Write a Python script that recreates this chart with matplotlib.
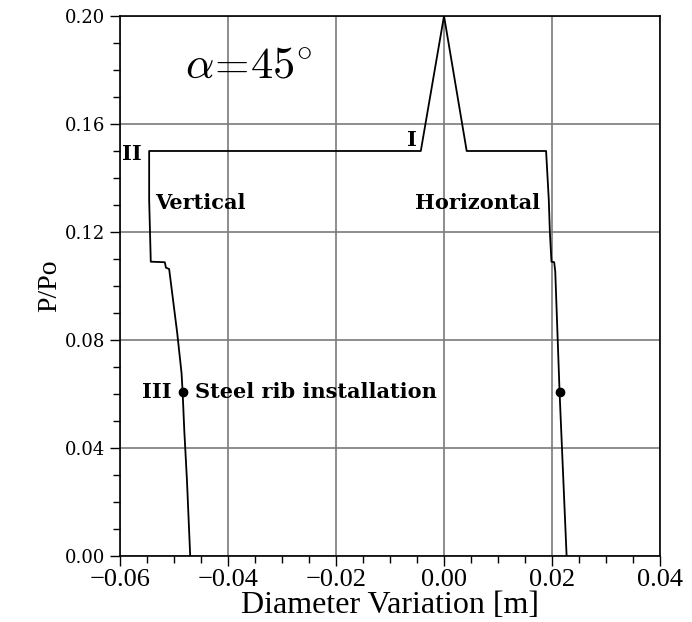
"""Load ratio versus diameter variation, alpha = 45 deg."""

import matplotlib
matplotlib.use("Agg")
import matplotlib.pyplot as plt
from matplotlib.ticker import MultipleLocator, FuncFormatter, FormatStrFormatter

plt.rcParams["mathtext.fontset"] = "cm"

# vertical branch (negative variation), from peak down to the bottom
vert_x = [0.0, -0.0043, -0.0546, -0.0546, -0.0543, -0.0517, -0.0515, -0.0509,
          -0.0501, -0.0494, -0.0486, -0.0484, -0.0481, -0.0476, -0.0470]
vert_y = [0.200, 0.150, 0.150, 0.132, 0.109, 0.1088, 0.1068, 0.1063,
          0.0936, 0.0825, 0.0677, 0.0606, 0.0467, 0.028, 0.0]

# horizontal branch (positive variation)
horz_x = [0.0, 0.0042, 0.0189, 0.0194, 0.0196, 0.0199, 0.0204, 0.0206,
          0.0214, 0.0227]
horz_y = [0.200, 0.150, 0.150, 0.132, 0.120, 0.109, 0.1088, 0.1053,
          0.0606, 0.0]

# steel rib installation points
rib_x = [-0.0484, 0.0214]
rib_y = [0.0606, 0.0606]

x_ticks = [-0.06, -0.04, -0.02, 0.00, 0.02, 0.04]
y_ticks = [0.00, 0.04, 0.08, 0.12, 0.16, 0.20]

fig = plt.figure(figsize=(6.92, 6.22), dpi=100)
ax = fig.add_axes([0.1734, 0.1061, 0.7804, 0.8682])

ax.plot(vert_x, vert_y, color="black", lw=1.3)
ax.plot(horz_x, horz_y, color="black", lw=1.3)
ax.plot(rib_x, rib_y, "o", color="black", ms=6)

ax.set_xlim(-0.06, 0.04)
ax.set_ylim(0.0, 0.20)
ax.set_xticks(x_ticks)
ax.set_yticks(y_ticks)
ax.xaxis.set_minor_locator(MultipleLocator(0.005))
ax.yaxis.set_minor_locator(MultipleLocator(0.01))
ax.xaxis.set_major_formatter(FuncFormatter(lambda v, _: f"{v:.2f}".replace("-", "\u2212")))
ax.yaxis.set_major_formatter(FormatStrFormatter("%.2f"))
ax.grid(True, which="major", color="#7a7a7a", lw=1.2)
ax.set_axisbelow(True)
ax.tick_params(which="major", direction="out", length=7, width=1.0)
ax.tick_params(which="minor", direction="out", length=5, width=1.0)
ax.tick_params(axis="x", which="major", pad=2)
for lab in ax.get_xticklabels():
    lab.set_family("Liberation Serif")
    lab.set_fontsize(19)
for lab in ax.get_yticklabels():
    lab.set_family("DejaVu Serif")
    lab.set_fontsize(13)
for sp in ax.spines.values():
    sp.set_linewidth(1.2)

ax.set_xlabel("Diameter Variation [m]", family="Liberation Serif", fontsize=23, labelpad=0)
ax.set_ylabel("P/Po", family="Liberation Serif", fontsize=20, labelpad=2)

lbl = dict(family="DejaVu Serif", fontweight="bold", fontsize=15, va="center")
ax.text(-0.048, 0.1815, r"$\alpha\!=\!45^{\circ}$", fontsize=32, va="center")
ax.text(-0.0559, 0.149, "II", ha="right", **lbl)
ax.text(-0.0059, 0.154, "I", ha="center", **lbl)
ax.text(-0.0535, 0.1307, "Vertical", ha="left", **lbl)
ax.text(-0.0054, 0.1307, "Horizontal", ha="left", **lbl)
ax.text(-0.0504, 0.0606, "III", ha="right", **lbl)
ax.text(-0.0461, 0.0606, "Steel rib installation", ha="left", **lbl)

fig.savefig("out.png", dpi=100)
